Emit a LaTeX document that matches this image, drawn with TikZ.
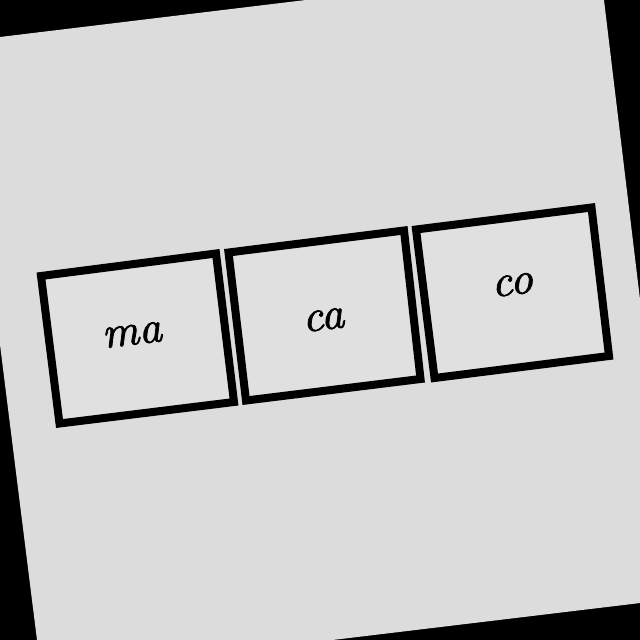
\documentclass[tikz,border=0pt]{standalone}
\usepackage{fontspec}
\newfontfamily\sylfont{lmroman10-italic}[Extension=.otf,FakeBold=1.6]
\begin{document}
\begin{tikzpicture}[x=1pt,y=-1pt,
  boxline/.style={draw=black,line width=8pt,line join=miter,fill=boxfill},
  syl/.style={font=\fontsize{45}{50}\sylfont,inner sep=0pt,rotate=7}]
\definecolor{pagegray}{HTML}{DCDCDC}
\definecolor{boxfill}{HTML}{E0E0E0}
\useasboundingbox (0,0) rectangle (640,640);
\fill[black] (0,0) rectangle (640,640);
\fill[pagegray] (-38,41.6) -- (599.7,-35.6) -- (676,598.7) -- (41.4,675) -- cycle;
\draw[boxline] (41,276) -- (216,253.5) -- (234,402) -- (59.5,423.5) -- cycle;
\draw[boxline] (228.5,252.5) -- (404,230.5) -- (420.5,379) -- (246,400.5) -- cycle;
\draw[boxline] (416,229.5) -- (591.5,207.5) -- (609,356) -- (434.5,378) -- cycle;
\node[syl] (ma) at (132,335) {ma};
\node[syl] (ca) at (323.3,320) {ca};
\node[syl] (co) at (512.3,285) {co};
\end{tikzpicture}
\end{document}
